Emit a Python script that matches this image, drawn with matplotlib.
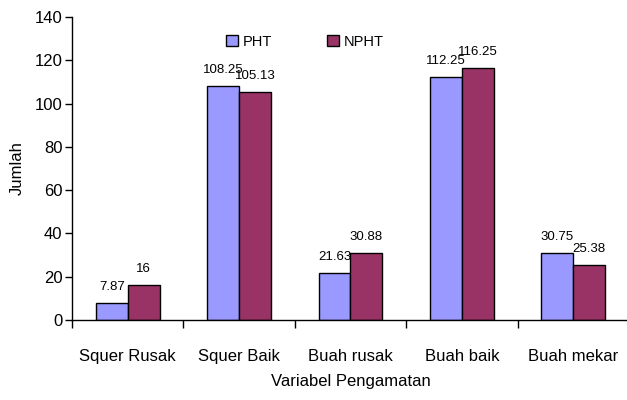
import numpy as np
import matplotlib
matplotlib.use("Agg")
from matplotlib import pyplot as plt
from matplotlib.ticker import FixedLocator

categories = ["Squer Rusak", "Squer Baik", "Buah rusak", "Buah baik", "Buah mekar"]
pht = [7.87, 108.25, 21.63, 112.25, 30.75]
npht = [16, 105.13, 30.88, 116.25, 25.38]
pht_labels = ["7.87", "108.25", "21.63", "112.25", "30.75"]
npht_labels = ["16", "105.13", "30.88", "116.25", "25.38"]

plt.rcParams["font.family"] = ["Liberation Sans", "DejaVu Sans"]

fig = plt.figure(figsize=(6.27, 4.0), dpi=100)
ax = fig.add_axes([0.115, 0.2, 0.888, 0.7575])

x = np.arange(len(categories))
w = 0.287
b1 = ax.bar(x - w / 2, pht, w, color="#9999FF", edgecolor="black", linewidth=1.0, label="PHT", zorder=2)
b2 = ax.bar(x + w / 2, npht, w, color="#993366", edgecolor="black", linewidth=1.0, label="NPHT", zorder=2)

# value labels above each bar
for xi, v, s in zip(x - w / 2, pht, pht_labels):
    ax.annotate(s, (xi, v), xytext=(0, 11.5), textcoords="offset points",
                ha="center", va="center", fontsize=9.5)
for xi, v, s in zip(x + w / 2, npht, npht_labels):
    ax.annotate(s, (xi, v), xytext=(0, 11.5), textcoords="offset points",
                ha="center", va="center", fontsize=9.5)

ax.set_xlim(-0.5, len(categories) - 0.5)
ax.set_ylim(0, 140)
ax.set_yticks(np.arange(0, 141, 20))
ax.set_xticks(x)
ax.set_xticklabels(categories, fontsize=12)
ax.xaxis.set_minor_locator(FixedLocator(np.arange(-0.5, len(categories), 1.0)))
ax.tick_params(axis="x", which="major", length=0, pad=21)
ax.tick_params(axis="x", which="minor", length=6, width=1, direction="out")
ax.tick_params(axis="y", length=5, width=1, direction="out", labelsize=12, pad=2)

for side in ["top", "right"]:
    ax.spines[side].set_visible(False)
ax.spines["left"].set_linewidth(1)
ax.spines["bottom"].set_linewidth(1)

ax.set_xlabel("Variabel Pengamatan", fontsize=12, labelpad=7)
ax.set_ylabel("Jumlah", fontsize=12, labelpad=7)

ax.legend(loc="upper center", bbox_to_anchor=(0.418, 0.985), ncol=2, frameon=False,
          fontsize=10.5, handlelength=0.8, handleheight=0.8, columnspacing=3.8,
          handletextpad=0.3)

fig.savefig("out.png", dpi=100)
